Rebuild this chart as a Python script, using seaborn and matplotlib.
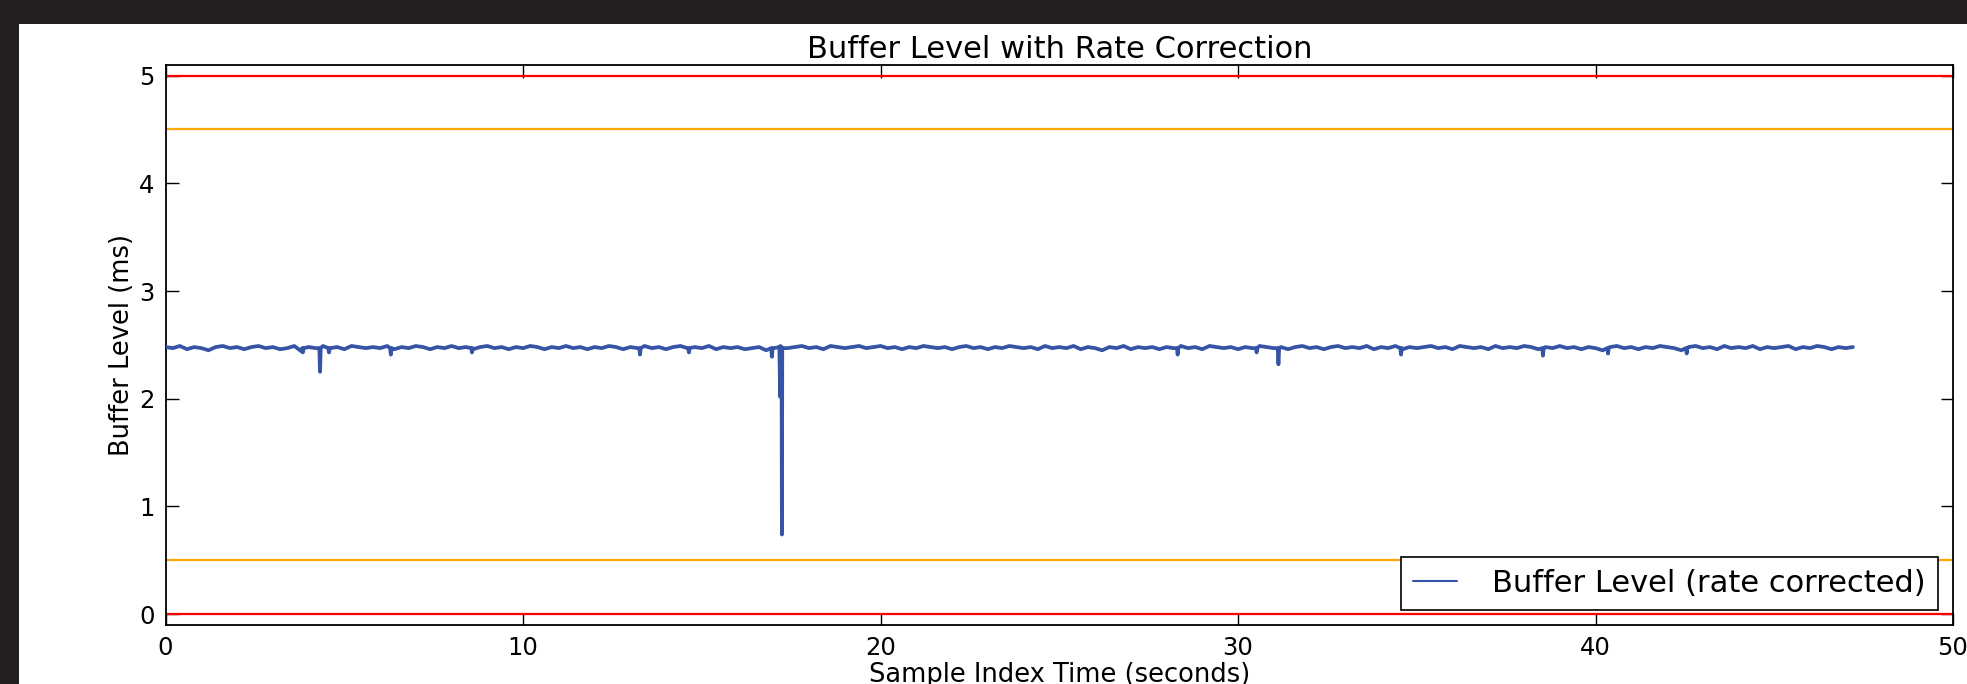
import numpy as np
import pandas as pd
import matplotlib
matplotlib.use("Agg")
import matplotlib.pyplot as plt
from matplotlib.patches import Rectangle
import seaborn as sns

# ---------------- data ----------------
sample_step_s = 0.2
buffer_level_ms = [
    2.48, 2.47, 2.49, 2.46, 2.48, 2.47, 2.45, 2.48, 2.49, 2.47,
    2.48, 2.46, 2.48, 2.49, 2.47, 2.48, 2.46, 2.47, 2.49, 2.44,
    2.48, 2.47, 2.49, 2.47, 2.48, 2.46, 2.49, 2.48, 2.47, 2.48,
    2.47, 2.49, 2.46, 2.48, 2.47, 2.49, 2.48, 2.46, 2.48, 2.47,
    2.49, 2.47, 2.48, 2.46, 2.48, 2.49, 2.47, 2.48, 2.46, 2.48,
    2.47, 2.49, 2.48, 2.46, 2.48, 2.47, 2.49, 2.47, 2.48, 2.46,
    2.48, 2.47, 2.49, 2.48, 2.46, 2.48, 2.47, 2.49, 2.47, 2.48,
    2.46, 2.48, 2.49, 2.47, 2.48, 2.47, 2.49, 2.46, 2.48, 2.47,
    2.48, 2.46, 2.47, 2.48, 2.45, 2.47, 2.49, 2.47, 2.48, 2.49,
    2.47, 2.48, 2.46, 2.49, 2.48, 2.47, 2.48, 2.49, 2.47, 2.48,
    2.49, 2.47, 2.48, 2.46, 2.48, 2.47, 2.49, 2.48, 2.47, 2.48,
    2.46, 2.48, 2.49, 2.47, 2.48, 2.46, 2.48, 2.47, 2.49, 2.48,
    2.47, 2.48, 2.46, 2.49, 2.47, 2.48, 2.47, 2.49, 2.46, 2.48,
    2.47, 2.45, 2.48, 2.47, 2.49, 2.46, 2.48, 2.47, 2.48, 2.46,
    2.48, 2.47, 2.49, 2.47, 2.48, 2.46, 2.49, 2.48, 2.47, 2.48,
    2.46, 2.48, 2.47, 2.49, 2.48, 2.47, 2.48, 2.46, 2.48, 2.49,
    2.47, 2.48, 2.46, 2.48, 2.49, 2.47, 2.48, 2.47, 2.49, 2.46,
    2.48, 2.47, 2.49, 2.46, 2.48, 2.47, 2.48, 2.49, 2.47, 2.48,
    2.46, 2.49, 2.48, 2.47, 2.48, 2.46, 2.49, 2.47, 2.48, 2.47,
    2.49, 2.48, 2.46, 2.48, 2.47, 2.49, 2.47, 2.48, 2.46, 2.48,
    2.47, 2.45, 2.48, 2.49, 2.47, 2.48, 2.46, 2.48, 2.47, 2.49,
    2.48, 2.47, 2.45, 2.48, 2.49, 2.47, 2.48, 2.46, 2.49, 2.47,
    2.48, 2.47, 2.49, 2.46, 2.48, 2.47, 2.48, 2.49, 2.46, 2.48,
    2.47, 2.49, 2.48, 2.46, 2.48, 2.47, 2.48,
]

# short dropout events (time in s, level in ms)
event_time_s = [
    3.82, 3.84, 3.86, 4.30, 4.32, 4.34, 4.55, 4.57, 4.59,
    6.28, 6.30, 6.32, 8.55, 8.57, 8.59, 13.25, 13.27, 13.29,
    14.62, 14.64, 14.66, 16.94, 16.96, 16.98, 17.17, 17.19, 17.21,
    17.23, 17.24, 17.25, 28.29, 28.31, 28.33, 30.50, 30.52, 30.54,
    31.11, 31.13, 31.15, 34.54, 34.56, 34.58, 38.51, 38.53, 38.55,
    40.33, 40.35, 40.37, 42.53, 42.55, 42.57,
]
event_level_ms = [
    2.47, 2.43, 2.47, 2.47, 2.25, 2.47, 2.47, 2.43, 2.47,
    2.47, 2.41, 2.47, 2.47, 2.43, 2.47, 2.47, 2.41, 2.47,
    2.47, 2.43, 2.47, 2.47, 2.39, 2.47, 2.48, 2.02, 2.47,
    2.48, 0.74, 2.47, 2.47, 2.41, 2.47, 2.47, 2.43, 2.47,
    2.47, 2.32, 2.47, 2.47, 2.41, 2.47, 2.47, 2.40, 2.47,
    2.47, 2.42, 2.47, 2.47, 2.42, 2.47,
]

limit_levels_ms = [0.0, 5.0]
warning_levels_ms = [0.5, 4.5]
x_ticks = [0, 10, 20, 30, 40, 50]
y_ticks = [0, 1, 2, 3, 4, 5]

# ---------------- style ----------------
sns.set_style("ticks")
plt.rcParams.update({
    "font.family": ["DejaVu Sans"],
    "axes.edgecolor": "black",
    "axes.linewidth": 1.3,
    "xtick.direction": "in",
    "ytick.direction": "in",
    "xtick.top": True,
    "ytick.right": True,
    "xtick.major.size": 9,
    "ytick.major.size": 9,
    "xtick.major.width": 1.0,
    "ytick.major.width": 1.0,
    "xtick.color": "black",
    "ytick.color": "black",
    "text.color": "black",
    "axes.labelcolor": "black",
})

W, H, DPI = 1967, 684, 100
fig = plt.figure(figsize=(W / DPI, H / DPI), dpi=DPI, facecolor="#231f20")
# white page area (dark frame at top and left)
fig.patches.append(Rectangle((19 / W, 0), 1, (H - 24) / H, transform=fig.transFigure,
                             facecolor="white", edgecolor="none", zorder=-10))

ax = fig.add_axes([165.6 / W, (H - 625) / H, (1953 - 165.6) / W, (625 - 64.8) / H])
ax.set_zorder(1)
ax.set_facecolor("white")

base_t = np.arange(len(buffer_level_ms)) * sample_step_s
df = pd.DataFrame({
    "t": np.concatenate([base_t, event_time_s]),
    "level": np.concatenate([buffer_level_ms, event_level_ms]),
}).sort_values("t", kind="stable").reset_index(drop=True)

for lv in limit_levels_ms:
    ax.axhline(lv, color="#ff0000", lw=1.6, zorder=2)
for lv in warning_levels_ms:
    ax.axhline(lv, color="#ffa500", lw=1.6, zorder=2)

sns.lineplot(data=df, x="t", y="level", estimator=None, sort=False, ax=ax,
             color="#3753a5", lw=2.7, label="Buffer Level (rate corrected)", zorder=3)

ax.set_xlim(0, 50)
ax.set_ylim(-0.1, 5.1)
ax.set_xticks(x_ticks)
ax.set_yticks(y_ticks)
ax.tick_params(labelsize=17.5, pad=8)
for s in ax.spines.values():
    s.set_visible(True)
    s.set_color("black")

ax.set_title("Buffer Level with Rate Correction", fontsize=22, pad=5)
ax.set_xlabel("Sample Index Time (seconds)", fontsize=18.5, labelpad=1)
ax.set_ylabel("Buffer Level (ms)", fontsize=18.5, labelpad=3)

leg = ax.legend(loc="lower right", fontsize=22, frameon=True, fancybox=False,
                framealpha=1, edgecolor="black", borderaxespad=0.49,
                handlelength=1.44, handletextpad=1.15, borderpad=0.4)
leg.get_frame().set_linewidth(1.2)
for h in leg.get_lines():
    h.set_linewidth(1.5)

fig.savefig("out.png", dpi=DPI, facecolor=fig.get_facecolor())
